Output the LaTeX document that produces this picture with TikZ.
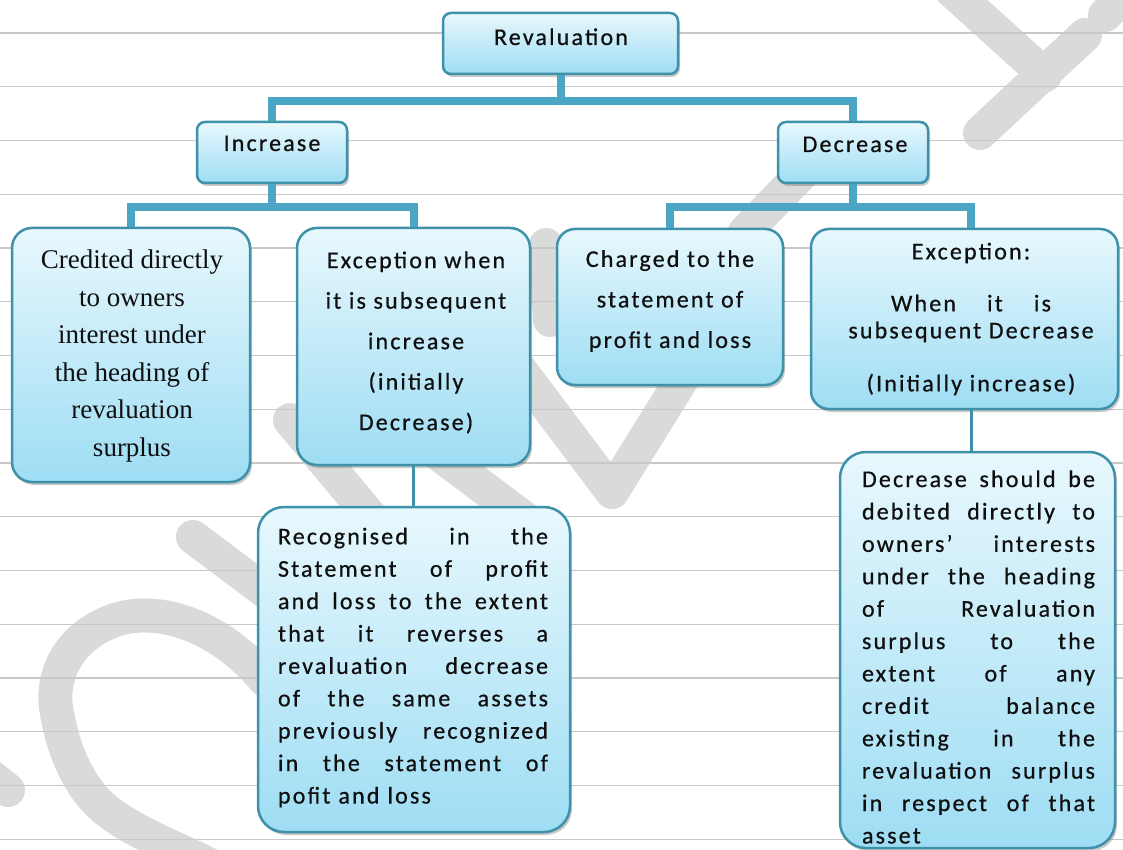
\documentclass[tikz,border=0pt]{standalone}
\usepackage{fontspec}
\setmainfont{Liberation Serif}
\newfontfamily\calfont[LetterSpace=9,FakeBold=0.6]{Carlito}
\newfontfamily\serfont{Liberation Serif}
\usetikzlibrary{shadows}
\definecolor{bordc}{RGB}{62,145,168}
\definecolor{connc}{RGB}{75,165,196}
\definecolor{topc}{RGB}{232,248,253}
\definecolor{botc}{RGB}{158,221,244}
\definecolor{rulec}{RGB}{200,200,200}
\definecolor{wmc}{RGB}{218,218,218}
\definecolor{txtc}{RGB}{15,15,15}
\newcommand\jl[2]{\makebox[#1][s]{\spaceskip=0pt\relax\xspaceskip=0pt\relax #2}\\}
\tikzset{
  rbox/.style={draw=bordc, line width=2.5pt, top color=topc, bottom color=botc,
    rounded corners=#1, inner sep=0pt,
    drop shadow={shadow xshift=2pt, shadow yshift=-3pt, opacity=0.35, fill=black!60}},
  rbox/.default=8pt,
  hdr/.style={font=\calfont\fontsize{24}{29}\selectfont, text=txtc, inner sep=0pt},
  body/.style={font=\calfont\fontsize{24}{40.5}\selectfont, text=txtc, inner sep=0pt, align=center},
  jbody/.style={font=\calfont\fontsize{24}{32.4}\selectfont, text=txtc, inner sep=0pt, align=left},
  serbody/.style={font=\serfont\fontsize{27}{37.6}\selectfont, text=txtc, inner sep=0pt, align=center},
  conn/.style={draw=connc, line width=8pt},
  tconn/.style={draw=bordc, line width=2.2pt},
  wm/.style={draw=wmc, line width=34pt, line cap=round, line join=round},
  rule/.style={draw=rulec, line width=1.4pt}
}
\begin{document}
\begin{tikzpicture}[x=1pt,y=-1pt]
\useasboundingbox (0,0) rectangle (1123,850);
\fill[white] (0,0) rectangle (1123,850);
% watermark strokes
\draw[wm] (193,537) -- (330,640);
\draw[wm] (265,680) .. controls (215,620) and (150,605) .. (110,622)
  .. controls (65,640) and (50,680) .. (57,713)
  .. controls (65,760) and (85,795) .. (110,813)
  .. controls (140,835) and (170,845) .. (210,865);
\draw[wm] (290,420) -- (390,540);
\draw[wm] (440,455) -- (540,530);
\draw[wm] (430,250) -- (612,492) -- (700,350);
\draw[wm] (940,-20) -- (1045,75);
\draw[wm] (1085,35) -- (980,133);
\draw[wm] (1105,15) -- (1140,-20);
\draw[wm] (745,232) -- (810,165);
\draw[wm] (-30,760) -- (8,790);
\draw[wm] (546,245) -- (550,320);
% ruled lines
\foreach \k in {0,...,15} {\draw[rule] (0,33+53.75*\k) -- (1123,33+53.75*\k);}
% boxes
\node[rbox=8pt, minimum width=235pt, minimum height=61pt] (rev) at (560.5,43.5) {};
\node[rbox=8pt, minimum width=150pt, minimum height=61pt] (inc) at (272,152.5) {};
\node[rbox=8pt, minimum width=150pt, minimum height=61pt] (dec) at (853,152.5) {};
\node[rbox=20pt, minimum width=238pt, minimum height=254pt] (cred) at (131,355) {};
\node[rbox=20pt, minimum width=233pt, minimum height=237pt] (exc1) at (413.5,346.5) {};
\node[rbox=18pt, minimum width=226pt, minimum height=156pt] (chg) at (670,307) {};
\node[rbox=18pt, minimum width=307pt, minimum height=180pt] (exc2) at (964.5,319) {};
\node[rbox=26pt, minimum width=312pt, minimum height=325pt] (rec) at (414,669.5) {};
\node[rbox=26pt, minimum width=275pt, minimum height=396pt] (dsb) at (977.5,650) {};
% connectors
\draw[conn] (rev.south) -- ++(0,26) -| (inc.north);
\draw[conn] (rev.south) ++(0,26) -| (dec.north);
\draw[conn] (inc.south) -- ++(0,23) -| (cred.north);
\draw[conn] (inc.south) ++(0,23) -| (exc1.north);
\draw[conn] (dec.south) -- ++(0,23) -| (chg.north);
\draw[conn] (dec.south) ++(0,23) -| ([xshift=6pt]exc2.north);
\draw[tconn] (exc1.south) -- (exc1.south |- rec.north);
\draw[tconn] ([xshift=7pt]exc2.south) -- ([xshift=7pt]exc2.south |- dsb.north);
% texts
\node[hdr, anchor=base] (revt) at (561,45) {Revaluation};
\node[hdr, anchor=base] (inct) at (272,151) {Increase};
\node[hdr, anchor=base] (dect) at (855,152) {Decrease};
\node[serbody] (credt) at (132,356) {Credited directly\\to owners\\interest under\\the heading of\\revaluation\\surplus};
\node[body] (exc1t) at (416,342.5) {Exception when\\it is subsequent\\increase\\(initially\\Decrease)};
\node[body] (chgt) at (670,301) {Charged to the\\statement of\\profit and loss};
\node[body, font=\calfont\fontsize{24}{27}\selectfont] (exc2t) at (971,319) {Exception:\\[25pt]\makebox[160pt][s]{When it is}\\subsequent Decrease\\[26pt](Initially increase)};
\node[jbody, text width=270pt] (rect) at (413,667.5) {\jl{270pt}{Recognised in the}\jl{270pt}{Statement of profit}\jl{270pt}{and loss to the extent}\jl{270pt}{that it reverses a}\jl{270pt}{revaluation decrease}\jl{270pt}{of the same assets}\jl{270pt}{previously recognized}\jl{270pt}{in the statement of}pofit and loss};
\node[jbody, text width=233pt] (dsbt) at (978.5,657) {\jl{233pt}{Decrease should be}\jl{233pt}{debited directly to}\jl{233pt}{owners’ interests}\jl{233pt}{under the heading}\jl{233pt}{of Revaluation}\jl{233pt}{surplus to the}\jl{233pt}{extent of any}\jl{233pt}{credit balance}\jl{233pt}{existing in the}\jl{233pt}{revaluation surplus}\jl{233pt}{in respect of that}asset};
\end{tikzpicture}
\end{document}
